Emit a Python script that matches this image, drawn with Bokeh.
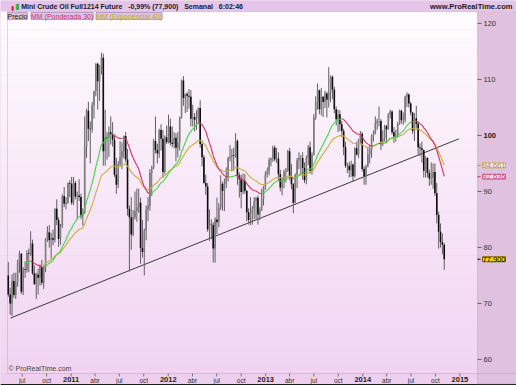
import numpy as np
import pandas as pd
from bokeh.plotting import figure
from bokeh.models import ColumnDataSource, Range1d, Label, BoxAnnotation
from bokeh.embed import file_html
from bokeh.resources import INLINE

# ---------------- data (weekly bars, week starting Monday) ----------------
first_week = "2010-05-10"

opens = [
    75.0, 71.6, 70.0, 74.0, 71.5, 73.8, 77.2, 78.9, 72.1, 76.1, 76.0, 79.0, 78.9, 80.7, 75.4, 73.5, 75.2, 74.6, 76.5, 73.7,
    76.5, 81.6, 82.7, 81.3, 81.7, 81.4, 86.9, 84.9, 81.5, 83.8, 89.2, 87.8, 88.0, 91.5,
    91.4, 88.0, 91.5, 89.1, 89.3, 89.0, 85.6, 86.2, 98.0, 104.4, 101.2, 101.1, 105.4, 107.9, 112.8, 109.7, 112.3, 113.9,
    97.2, 99.7, 99.5, 100.6, 100.2, 99.3, 93.0, 91.2, 94.9, 96.2, 97.2, 99.9, 95.7, 86.9, 85.4, 82.3, 85.4, 86.5, 87.2,
    88.0, 79.9, 79.2, 83.0, 86.8, 87.4, 93.3, 94.3, 99.0, 97.4, 96.8, 101.0, 99.4, 93.5, 99.7,
    98.8, 101.6, 98.7, 98.5, 99.6, 97.8, 98.7, 103.2, 109.8, 106.7, 107.4, 107.1, 106.9, 103.0, 103.3, 102.8, 103.1, 104.9,
    98.5, 96.1, 91.5, 90.9, 83.2, 84.1, 84.0, 79.8, 85.0, 84.5, 87.1, 91.4, 90.1, 91.4, 92.9, 96.0, 96.2, 96.5, 96.4, 99.0,
    92.9, 92.2, 89.9, 91.9, 90.1, 86.3, 84.9, 86.1, 86.9, 88.3, 88.9, 85.9, 86.7, 88.7,
    90.8, 93.1, 93.6, 95.6, 95.9, 97.8, 95.7, 95.9, 93.1, 90.7, 92.0, 93.5, 93.7, 97.2, 92.7, 91.3, 88.0, 93.0, 95.6, 96.0,
    96.0, 94.2, 92.0, 96.0, 97.9, 93.7, 96.6, 103.2, 106.0, 108.1, 104.7, 106.9, 106.0, 107.5, 106.4, 107.7, 110.5, 108.2,
    104.7, 102.9, 103.8, 102.0, 100.8, 97.9, 94.6, 94.6, 93.8, 94.8, 92.7, 97.7, 96.6, 99.3,
    100.3, 94.0, 92.7, 94.4, 96.6, 97.5, 99.9, 100.3, 102.2, 102.6, 102.6, 98.9, 99.5, 101.7, 101.1, 103.7, 104.3, 100.6,
    99.8, 100.0, 102.0, 104.4, 102.7, 102.7, 106.9, 107.3, 105.7, 104.1, 100.8, 103.1, 102.1, 97.9, 97.7, 97.4, 93.7, 96.0,
    93.3, 92.3, 92.4, 93.5, 89.7, 85.8, 82.8, 81.0, 80.5,
]
highs = [
    77.4, 72.8, 75.2, 75.5, 75.5, 77.8, 79.4, 79.0, 76.5, 77.5, 79.5, 79.8, 82.9, 81.4, 76.8, 75.5, 76.2, 77.0, 77.8, 76.8,
    81.7, 83.8, 84.0, 82.6, 83.2, 87.0, 88.6, 85.4, 84.2, 89.5, 90.8, 89.0, 91.6, 92.0,
    92.6, 92.6, 91.9, 90.0, 92.2, 89.6, 87.0, 103.4, 104.8, 106.0, 102.5, 106.0, 108.0, 112.9, 113.0, 112.6, 114.8, 114.6,
    104.6, 100.6, 101.6, 103.4, 102.4, 100.0, 96.0, 95.4, 99.0, 98.8, 100.0, 100.6, 97.6, 87.5, 89.0, 86.7, 90.0, 90.5,
    90.5, 88.9, 84.9, 83.4, 87.5, 89.0, 94.0, 94.6, 99.4, 103.4, 98.5, 101.2, 102.0, 101.0, 100.0, 101.8,
    103.7, 103.0, 101.6, 100.6, 100.4, 100.6, 103.4, 110.0, 110.6, 107.5, 107.8, 108.3, 108.1, 105.5, 104.0, 104.5, 105.0,
    106.3, 99.1, 96.5, 93.0, 91.5, 86.8, 85.0, 84.5, 85.4, 88.9, 87.9, 92.9, 91.8, 92.3, 94.3, 96.2, 98.3, 97.6, 97.8,
    100.4, 99.3, 93.4, 93.0, 93.2, 93.1, 90.3, 87.0, 89.0, 87.4, 89.0, 89.0, 89.3, 87.2, 90.5, 91.0,
    93.6, 94.3, 96.0, 96.1, 98.2, 98.2, 97.8, 97.0, 93.9, 92.5, 93.9, 94.2, 97.4, 97.8, 94.9, 91.5, 93.2, 96.0, 97.0, 96.5,
    97.0, 95.2, 96.4, 98.3, 98.9, 97.0, 103.8, 107.0, 109.3, 108.2, 108.5, 107.0, 108.0, 107.8, 112.2, 110.7, 110.7,
    108.7, 105.2, 104.6, 104.5, 102.6, 101.2, 98.9, 95.1, 95.3, 95.5, 95.0, 97.9, 98.9, 99.4, 100.8,
    100.6, 94.5, 94.8, 97.8, 98.3, 100.2, 100.9, 103.4, 103.0, 105.2, 102.9, 100.9, 101.9, 101.9, 104.0, 104.6, 104.5,
    101.5, 101.0, 102.4, 104.6, 104.6, 104.1, 107.1, 107.7, 107.5, 106.0, 104.2, 104.0, 105.3, 102.5, 98.6, 98.9, 97.5,
    96.3, 96.1, 93.9, 95.2, 95.0, 95.0, 91.5, 86.4, 84.3, 82.5, 80.8,
]
lows = [
    71.2, 68.0, 67.8, 71.0, 70.8, 73.0, 75.5, 71.7, 71.5, 74.6, 75.5, 75.6, 78.5, 75.1, 73.3, 70.8, 71.6, 73.2, 73.3, 72.6,
    75.6, 81.0, 80.0, 78.0, 80.4, 80.9, 84.0, 80.1, 80.5, 83.5, 87.2, 86.8, 87.8, 89.0,
    87.6, 87.6, 88.6, 85.1, 88.3, 85.1, 83.9, 86.0, 96.0, 99.0, 95.0, 100.5, 103.0, 107.0, 104.6, 106.2, 110.9, 94.6,
    94.6, 95.7, 96.2, 98.4, 98.0, 92.6, 89.6, 90.6, 94.5, 94.0, 95.9, 95.2, 85.7, 75.7, 79.6, 82.0, 85.0, 84.6, 86.2,
    77.1, 78.2, 75.0, 81.3, 84.7, 86.6, 89.2, 94.0, 96.8, 95.0, 96.0, 97.3, 92.5, 93.1, 98.5,
    98.6, 98.2, 97.9, 97.7, 95.4, 96.1, 97.3, 103.0, 105.3, 104.0, 104.2, 104.8, 101.6, 101.6, 100.7, 101.0, 102.2, 97.8,
    94.5, 91.4, 89.4, 82.8, 81.2, 81.5, 77.3, 77.3, 82.4, 83.6, 86.7, 86.6, 86.5, 90.6, 91.8, 95.4, 93.6, 93.7, 96.0,
    91.2, 88.9, 87.0, 89.5, 89.6, 84.7, 84.1, 84.0, 84.1, 85.1, 85.0, 84.1, 84.9, 86.5, 87.5,
    90.3, 92.5, 92.9, 94.5, 95.3, 95.4, 95.1, 92.0, 90.0, 89.3, 90.6, 91.6, 93.5, 92.0, 90.4, 86.1, 87.9, 90.6, 94.0,
    93.0, 92.1, 91.5, 91.3, 94.7, 93.2, 93.0, 96.4, 102.8, 104.6, 103.8, 103.6, 103.3, 104.9, 103.2, 105.0, 105.9, 106.5,
    104.0, 101.8, 100.6, 100.8, 99.7, 96.5, 94.2, 93.3, 92.5, 92.6, 91.8, 92.5, 96.4, 96.0, 98.4,
    93.6, 91.2, 91.2, 94.3, 95.0, 96.0, 98.9, 100.2, 101.0, 101.6, 97.4, 98.1, 98.9, 98.6, 101.0, 103.0, 100.2, 98.7,
    98.9, 99.6, 101.9, 102.1, 101.9, 102.3, 105.1, 105.0, 103.6, 100.3, 99.0, 101.1, 96.6, 96.3, 95.2, 92.5, 92.5, 92.5,
    91.0, 91.2, 90.5, 89.2, 84.3, 79.8, 80.0, 78.8, 76.0,
]
closes = [
    71.6, 70.0, 74.0, 71.5, 73.8, 77.2, 78.9, 72.1, 76.1, 76.0, 79.0, 78.9, 80.7, 75.4, 73.5, 75.2, 74.6, 76.5, 73.7, 76.5,
    81.6, 82.7, 81.3, 81.7, 81.4, 86.9, 84.9, 81.5, 83.8, 89.2, 87.8, 88.0, 91.5, 91.4,
    88.0, 91.5, 89.1, 89.3, 89.0, 85.6, 86.2, 98.0, 104.4, 101.2, 101.1, 105.4, 107.9, 112.8, 109.7, 112.3, 113.9, 97.2,
    99.7, 99.5, 100.6, 100.2, 99.3, 93.0, 91.2, 94.9, 96.2, 97.2, 99.9, 95.7, 86.9, 85.4, 82.3, 85.4, 86.5, 87.2, 88.0,
    79.9, 79.2, 83.0, 86.8, 87.4, 93.3, 94.3, 99.0, 97.4, 96.8, 101.0, 99.4, 93.5, 99.7, 98.8,
    101.6, 98.7, 98.5, 99.6, 97.8, 98.7, 103.2, 109.8, 106.7, 107.4, 107.1, 106.9, 103.0, 103.3, 102.8, 103.1, 104.9, 98.5,
    96.1, 91.5, 90.9, 83.2, 84.1, 84.0, 79.8, 85.0, 84.5, 87.1, 91.4, 90.1, 91.4, 92.9, 96.0, 96.2, 96.5, 96.4, 99.0, 92.9,
    92.2, 89.9, 91.9, 90.1, 86.3, 84.9, 86.1, 86.9, 88.3, 88.9, 85.9, 86.7, 88.7, 90.8,
    93.1, 93.6, 95.6, 95.9, 97.8, 95.7, 95.9, 93.1, 90.7, 92.0, 93.5, 93.7, 97.2, 92.7, 91.3, 88.0, 93.0, 95.6, 96.0, 96.0,
    94.2, 92.0, 96.0, 97.9, 93.7, 96.6, 103.2, 106.0, 108.1, 104.7, 106.9, 106.0, 107.5, 106.4, 107.7, 110.5, 108.2, 104.7,
    102.9, 103.8, 102.0, 100.8, 97.9, 94.6, 94.6, 93.8, 94.8, 92.7, 97.7, 96.6, 99.3, 100.3,
    94.0, 92.7, 94.4, 96.6, 97.5, 99.9, 100.3, 102.2, 102.6, 102.6, 98.9, 99.5, 101.7, 101.1, 103.7, 104.3, 100.6, 99.8,
    100.0, 102.0, 104.4, 102.7, 102.7, 106.9, 107.3, 105.7, 104.1, 100.8, 103.1, 102.1, 97.9, 97.7, 97.4, 93.7, 96.0, 93.3,
    92.3, 92.4, 93.5, 89.7, 85.8, 82.8, 81.0, 80.5, 77.9,
]
# weekly closes before the visible window (feed the moving averages only)
history_close = [78.0, 79.4, 82.8, 79.4, 74.5, 72.9, 71.2, 74.1, 79.8, 79.7,
                 81.5, 81.2, 80.7, 80.0, 84.9, 84.9, 83.2, 85.1, 86.2, 75.1]

trend_dates = ["2010-05-18", "2014-12-28"]
trend_prices = [67.4, 99.4]

quarter_ticks = ["2010-07-01", "2010-10-01", "2011-01-01", "2011-04-01", "2011-07-01", "2011-10-01",
                 "2012-01-01", "2012-04-01", "2012-07-01", "2012-10-01", "2013-01-01", "2013-04-01",
                 "2013-07-01", "2013-10-01", "2014-01-01", "2014-04-01", "2014-07-01", "2014-10-01", "2015-01-01"]
quarter_labels = ["jul", "oct", "2011", "abr", "jul", "oct", "2012", "abr", "jul", "oct", "2013", "abr",
                  "jul", "oct", "2014", "abr", "jul", "oct", "2015"]
price_ticks = [60, 70, 80, 90, 100, 110, 120]
price_labels = ["60", "70", "80", "90", "100", "110", "120"]

last_values = [94.661, 92.636, 77.900]
last_texts = ["94,661", "92,636", "77,900"]

title_parts = ["Mini Crude Oil Full1214 Future", "-0,99% (77,900)", "Semanal", "6:02:46"]
site_text = "www.ProRealTime.com"
legend_texts = ["Precio", "MM (Ponderada 30)", "MM (Exponencial 40)"]

# ---------------- helpers ----------------
FONT = "Liberation Sans"
DAY = 86400000.0
NBSP = "\u00a0"


def ms(d):
    return float(pd.Timestamp(d).value // 10**6)


dates = pd.date_range(first_week, periods=len(closes), freq="7D")
xs = np.array([ms(d) for d in dates])
o = np.array(opens, float)
h = np.array(highs, float)
l = np.array(lows, float)
c = np.array(closes, float)
up = c >= o

hist_dates = pd.date_range(end=dates[0] - pd.Timedelta(days=7), periods=len(history_close), freq="7D")
all_x = np.array([ms(d) for d in hist_dates] + list(xs))
all_c = np.array(history_close + closes, float)

# weighted MA 30
N = 30
wts = np.arange(1, N + 1, dtype=float)
wma = np.full(all_c.size, np.nan)
for i in range(N - 1, all_c.size):
    wma[i] = (all_c[i - N + 1:i + 1] * wts).sum() / wts.sum()
# exponential MA 40
M = 40
alpha = 2.0 / (M + 1)
ema = np.empty(all_c.size)
ema[0] = all_c[0]
for i in range(1, all_c.size):
    ema[i] = alpha * all_c[i] + (1 - alpha) * ema[i - 1]
ema[:M - 1] = np.nan

# ---------------- layout: the figure frame covers the whole canvas ----------------
W, H = 516, 385
PL, PR, PT, PB = 7, 477, 11, 373          # price-pane edges in pixels
x_start, x_end = ms("2010-05-07"), ms("2015-03-08")
y_start, y_end = 57.5, 122.14
XPX = (x_end - x_start) / (PR - PL)       # ms per pixel
YPX = (y_end - y_start) / (PB - PT)       # price per pixel
cx0, cx1 = x_start - PL * XPX, x_end + (W - PR) * XPX
cy0, cy1 = y_start - (H - PB) * YPX, y_end + PT * YPX

p = figure(width=W, height=H, output_backend="svg", toolbar_location=None,
           x_axis_type=None, y_axis_type=None,
           x_range=Range1d(cx0, cx1), y_range=Range1d(cy0, cy1),
           min_border_left=0, min_border_right=0, min_border_top=0, min_border_bottom=0,
           background_fill_color="#e0c1e0", border_fill_color="#e0c1e0",
           outline_line_color=None)

# price pane gradient (decoration)
top_rgb = np.array([254, 251, 254], float)
bot_rgb = np.array([242, 212, 242], float)
NB = 40
for k in range(NB):
    b = y_start + (y_end - y_start) * k / NB
    t = y_start + (y_end - y_start) * (k + 1) / NB + 0.08
    f = (k + 0.5) / NB
    col = bot_rgb + (top_rgb - bot_rgb) * f
    hexc = "#%02x%02x%02x" % tuple(int(round(v)) for v in col)
    p.add_layout(BoxAnnotation(bottom=b, top=t, right=x_end, fill_color=hexc, fill_alpha=1.0,
                               line_color=None, level="underlay"))
# header strip, time-axis strip, bottom edge line
p.add_layout(BoxAnnotation(bottom=y_end, fill_color="#e4c4e8", fill_alpha=1.0, line_color=None, level="underlay"))
p.add_layout(BoxAnnotation(top=y_start, right=x_end, fill_color="#eed0ee", fill_alpha=1.0,
                           line_color=None, level="underlay"))
p.add_layout(BoxAnnotation(top=cy0 + 1.6 * YPX, fill_color="#1a1a1a", fill_alpha=1.0,
                           line_color=None, level="underlay"))
# pane outline
p.add_layout(BoxAnnotation(left=x_start, right=x_end, bottom=y_start, top=y_end, fill_alpha=0.0,
                           line_color="#a585a8", line_width=1, level="underlay"))
p.add_layout(BoxAnnotation(top=y_start, bottom=cy0 + 1.6 * YPX, left=x_end, fill_alpha=0.0,
                           line_color="#a585a8", line_width=1, level="underlay"))

# time axis: ticks + labels
qt_ms = [ms(d) for d in quarter_ticks]
p.segment(x0=qt_ms, y0=[y_start] * len(qt_ms), x1=qt_ms, y1=[y_start - 3 * YPX] * len(qt_ms),
          line_color="#777777", line_width=1)
for tv, lab in zip(qt_ms, quarter_labels):
    is_year = lab.isdigit()
    p.add_layout(Label(x=tv, y=y_start, y_offset=-3.5, text=lab, text_align="center", text_baseline="top",
                       text_font=FONT, text_font_size="7.5px" if is_year else "6.5px",
                       text_font_style="bold" if is_year else "normal",
                       text_color="#222222" if is_year else "#333333"))

# price axis: ticks + labels
p.segment(x0=[x_end] * len(price_ticks), y0=price_ticks, x1=[x_end + 4 * XPX] * len(price_ticks),
          y1=price_ticks, line_color="#666666", line_width=1)
for pv, lab in zip(price_ticks, price_labels):
    p.add_layout(Label(x=x_end, y=pv, x_offset=6, text=lab, text_align="left", text_baseline="middle",
                       text_font=FONT, text_font_size="7.5px",
                       text_font_style="bold" if pv == 100 else "normal",
                       text_color="#222222" if pv == 100 else "#333333"))

# trend line
p.line([ms(d) for d in trend_dates], trend_prices, line_color="#3a3a3a", line_width=1)

# candles
src = ColumnDataSource(dict(
    x=xs, high=h, low=l,
    top=np.maximum(o, c), bottom=np.minimum(o, c),
    color=np.where(up, "#7c7c7c", "#0d0d0d"),
))
p.segment(x0="x", y0="low", x1="x", y1="high", source=src, line_color="#606060", line_width=1)
p.vbar(x="x", top="top", bottom="bottom", width=6 * DAY, source=src,
       fill_color="color", line_color=None)

# EMA 40
p.line(all_x, ema, line_color="#c9b040", line_width=1.1)

# WMA 30 coloured by slope
sx0, sy0, sx1, sy1, scol = [], [], [], [], []
for i in range(N, all_c.size):
    sx0.append(all_x[i - 1]); sy0.append(wma[i - 1])
    sx1.append(all_x[i]); sy1.append(wma[i])
    scol.append("#44d444" if wma[i] >= wma[i - 1] else "#cc3366")
p.segment(x0=sx0, y0=sy0, x1=sx1, y1=sy1, line_color=scol, line_width=1.1)

# value boxes on the price scale
box_styles = [("#b09a28", "#c8b050", "#f3e6f3"), ("#cc3366", "#cc6690", "#f3e6f3"),
              ("#000000", "#806000", "#f5d400")]
p.segment(x0=[x_end] * 3, y0=last_values, x1=[x_end + 3 * XPX] * 3, y1=last_values,
          line_color=[s[0] for s in box_styles], line_width=1)
for v, t, (tc, bc, bg) in zip(last_values, last_texts, box_styles):
    p.add_layout(Label(x=x_end, y=v, x_offset=5, text=t, text_align="left", text_baseline="middle",
                       text_font=FONT, text_font_size="7.5px", text_color=tc,
                       background_fill_color=bg, background_fill_alpha=1.0,
                       border_line_color=bc, border_line_width=1))

# header (one text line; non-breaking spaces keep the gaps)
gap = NBSP * 3
header_text = gap.join(title_parts)
p.add_layout(Label(x=x_start, y=y_end, x_offset=13.7, y_offset=5.5, text=header_text, text_align="left",
                   text_baseline="middle", text_font=FONT, text_font_size="7px",
                   text_font_style="bold", text_color="#1a1a1a"))
p.add_layout(Label(x=x_end, y=y_end, x_offset=35, y_offset=5.5, text=site_text, text_align="right",
                   text_baseline="middle", text_font=FONT, text_font_size="7.5px",
                   text_font_style="bold", text_color="#1a1a1a"))
p.add_layout(Label(x=x_start, y=y_end, x_offset=3.5, y_offset=4.5, text="\u25ae", text_align="left",
                   text_baseline="middle", text_font="DejaVu Sans", text_font_size="6px", text_color="#d03030"))
p.add_layout(Label(x=x_start, y=y_end, x_offset=7.5, y_offset=5.5, text="\u25ae", text_align="left",
                   text_baseline="middle", text_font="DejaVu Sans", text_font_size="8px", text_color="#30b030"))

# legend strip
legend_offsets = [0, 23.5, 88.5]
legend_colors = ["#111111", "#cc3366", "#c0a830"]
for txt, off, col in zip(legend_texts, legend_offsets, legend_colors):
    p.add_layout(Label(x=x_start, y=y_end, x_offset=off, y_offset=-1, text=txt, text_align="left",
                       text_baseline="top", text_font=FONT, text_font_size="7px", text_color=col,
                       background_fill_color="#dcc2e6", background_fill_alpha=1.0,
                       border_line_color="#b89cc4", border_line_width=1))

# copyright
p.add_layout(Label(x=x_start, y=y_start, x_offset=1, y_offset=2, text="\u00a9 ProRealTime.com",
                   text_align="left", text_baseline="bottom", text_font=FONT, text_font_size="7px",
                   text_color="#444444"))

open("out.html", "w").write(file_html(p, INLINE, title="Mini Crude Oil"))
